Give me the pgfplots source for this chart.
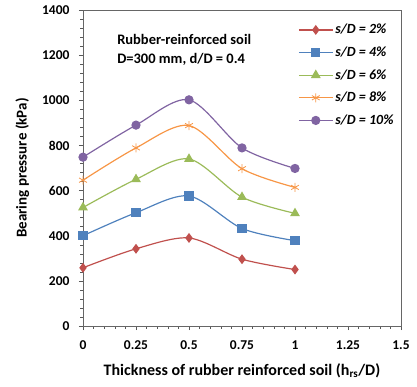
\documentclass[border=0pt]{standalone}
\usepackage{pgfplots}
\pgfplotsset{compat=1.18}
\usepackage{fontspec}
\setmainfont{Carlito}
\definecolor{cred}{HTML}{C0504D}
\definecolor{cblue}{HTML}{4F81BD}
\definecolor{cgreen}{HTML}{9BBB59}
\definecolor{corange}{HTML}{F79646}
\definecolor{cpurple}{HTML}{8064A2}
\begin{document}
\begin{tikzpicture}[x=1bp,y=1bp]
\useasboundingbox (0,0) rectangle (417,387);
\begin{axis}[
  at={(83bp,61bp)}, anchor=south west,
  scale only axis, width=318bp, height=316bp,
  xmin=0, xmax=1.5, ymin=0, ymax=1400,
  xtick={0,0.25,0.5,0.75,1,1.25,1.5},
  xticklabels={0,0.25,0.5,0.75,1,1.25,1.5},
  ytick={0,200,400,600,800,1000,1200,1400},
  yticklabels={0,200,400,600,800,1000,1200,1400},
  minor x tick num=4, minor y tick num=4,
  tick align=outside,
  major tick length=4bp, minor tick length=2.5bp,
  xtick pos=bottom, ytick pos=left,
  axis line style={draw=gray!80!black},
  every tick/.style={gray!70!black},
  every tick label/.append style={font=\fontsize{13.5bp}{15bp}\selectfont\bfseries},
  xticklabel style={yshift=-7bp},
  yticklabel style={xshift=-6bp},
  xlabel={\textbf{Thickness of rubber reinforced soil (h\textsubscript{rs}/D)}},
  ylabel={\textbf{Bearing pressure (kPa)}},
  xlabel style={font=\fontsize{16bp}{18bp}\selectfont, yshift=-7bp},
  ylabel style={font=\fontsize{15bp}{17bp}\selectfont, yshift=6bp},
  legend style={draw=none, fill=none, at={(axis cs:1.0,1355)}, anchor=north west,
    font=\fontsize{14bp}{15bp}\selectfont\bfseries\itshape, row sep=7.5bp},
  legend cell align=left,
  legend image code/.code={
    \draw[#1,mark repeat=2,mark phase=2] plot coordinates {(0cm,0cm) (0.6cm,0cm) (1.2cm,0cm)};},
  clip=false,
]
\addplot[cred, line width=1.2pt, smooth, mark=diamond*, mark size=4bp, mark options={fill=cred}]
 coordinates {(0,258) (0.25,342) (0.5,390) (0.75,296) (1,250)};
\addlegendentry{s/D = 2\%}
\addplot[cblue, line width=1.2pt, smooth, mark=square*, mark size=4bp, mark options={fill=cblue}]
 coordinates {(0,400) (0.25,502) (0.5,576) (0.75,432) (1,378)};
\addlegendentry{s/D = 4\%}
\addplot[cgreen, line width=1.2pt, smooth, mark=triangle*, mark size=4.5bp, mark options={fill=cgreen}]
 coordinates {(0,525) (0.25,650) (0.5,740) (0.75,571) (1,499)};
\addlegendentry{s/D = 6\%}
\addplot[corange, line width=1.2pt, smooth, mark=asterisk, mark size=4.5bp, mark options={line width=0.8pt}]
 coordinates {(0,646) (0.25,789) (0.5,888) (0.75,697) (1,614)};
\addlegendentry{s/D = 8\%}
\addplot[cpurple, line width=1.2pt, smooth, mark=*, mark size=4bp, mark options={fill=cpurple}]
 coordinates {(0,748) (0.25,890) (0.5,1002) (0.75,789) (1,698)};
\addlegendentry{s/D = 10\%}
\node[anchor=north west, align=left, font=\fontsize{14.5bp}{19bp}\selectfont\bfseries]
  at (axis cs:0.145,1310) {Rubber-reinforced soil\\D=300 mm, d/D = 0.4};
\end{axis}
\end{tikzpicture}
\end{document}
